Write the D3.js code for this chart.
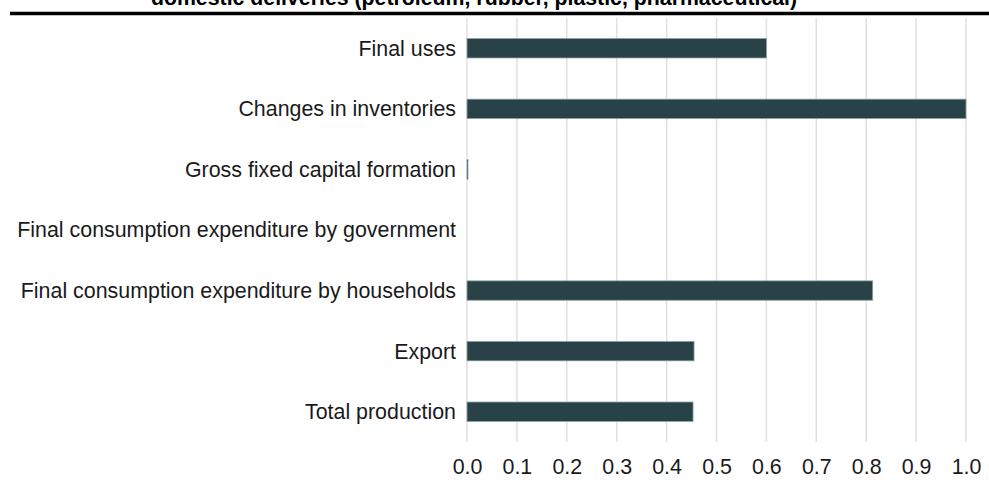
<!DOCTYPE html>
<html>
<head>
<meta charset="utf-8">
<script src="https://cdn.jsdelivr.net/npm/d3@7"></script>
<style>
  html, body { margin: 0; padding: 0; background: #fff; }
  svg { display: block; font-family: "Liberation Sans", Arial, sans-serif; }
</style>
</head>
<body>
<svg id="chart" width="989" height="480"></svg>
<script>
const title = "domestic deliveries (petroleum, rubber, plastic, pharmaceutical)";
const categories = [
  "Final uses",
  "Changes in inventories",
  "Gross fixed capital formation",
  "Final consumption expenditure by government",
  "Final consumption expenditure by households",
  "Export",
  "Total production"
];
const values = [0.6, 1.0, 0.002, 0, 0.813, 0.455, 0.453];
const tickValues = [0, 0.1, 0.2, 0.3, 0.4, 0.5, 0.6, 0.7, 0.8, 0.9, 1.0];

const svg = d3.select("#chart");
const x = d3.scaleLinear().domain([0, 1]).range([467, 966]);
const y = d3.scaleBand().domain(categories).range([18, 442])
  .paddingInner(0.68).paddingOuter(0.34);

// title (cut off at top, as in the reference)
svg.append("text")
  .attr("x", 474).attr("y", 4.5)
  .attr("text-anchor", "middle")
  .attr("font-size", 21.3).attr("font-weight", "bold")
  .attr("fill", "#000")
  .text(title);

// separator line
svg.append("line")
  .attr("x1", 10).attr("x2", 989)
  .attr("y1", 13.5).attr("y2", 13.5)
  .attr("stroke", "#000").attr("stroke-width", 3.5);

// gridlines
svg.append("g").selectAll("line")
  .data(tickValues).join("line")
  .attr("x1", d => x(d)).attr("x2", d => x(d))
  .attr("y1", 18).attr("y2", 442)
  .attr("stroke", "#e0e0e0").attr("stroke-width", 1.5);

// bars
svg.append("g").selectAll("rect")
  .data(categories).join("rect")
  .attr("x", x(0))
  .attr("y", d => y(d))
  .attr("width", (d, i) => Math.max(0, x(values[i]) - x(0)))
  .attr("height", y.bandwidth())
  .attr("fill", "#294247")
  .attr("stroke", (d, i) => values[i] > 0 ? "#8fa0a3" : "none")
  .attr("stroke-width", 0.8);

// category labels
svg.append("g").selectAll("text")
  .data(categories).join("text")
  .attr("x", 456)
  .attr("y", d => y(d) + y.bandwidth() / 2)
  .attr("dy", "0.35em")
  .attr("text-anchor", "end")
  .attr("font-size", 21.4)
  .attr("fill", "#1a1a1a")
  .text(d => d);

// x axis
const axis = d3.axisBottom(x).tickValues(tickValues)
  .tickFormat(d3.format(".1f")).tickSize(0).tickPadding(0);
const gx = svg.append("g").attr("transform", "translate(0,459)").call(axis);
gx.select(".domain").remove();
gx.selectAll("text")
  .attr("font-size", 21.4)
  .attr("font-family", "Liberation Sans, Arial, sans-serif")
  .attr("fill", "#1a1a1a")
  .attr("dy", "0.71em");
</script>
</body>
</html>
